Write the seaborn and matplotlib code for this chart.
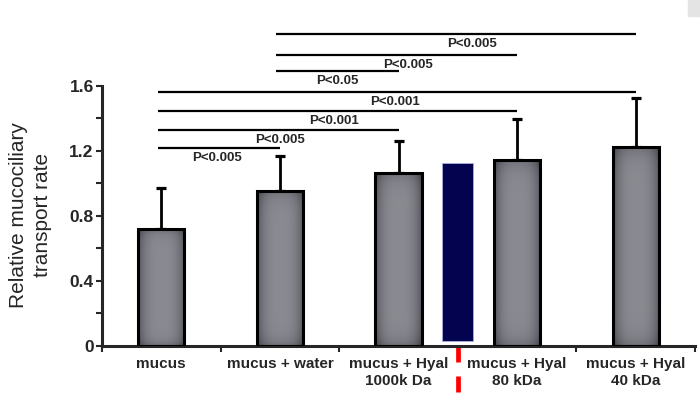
import numpy as np
import pandas as pd
import matplotlib
matplotlib.use("Agg")
import matplotlib.pyplot as plt
from matplotlib.patches import Rectangle
import seaborn as sns

# values
categories = ["mucus", "mucus + water", "mucus + Hyal\n1000k Da",
              "mucus + Hyal\n80 kDa", "mucus + Hyal\n40 kDa"]
rate = [0.717, 0.955, 1.062, 1.144, 1.226]
sd = [0.253, 0.214, 0.201, 0.251, 0.302]

# significance brackets (from group, to group, bracket height, label)
comp_from = [1, 1, 1, 0, 0, 0, 0]
comp_to = [4, 3, 2, 4, 3, 2, 1]
comp_y = [1.919, 1.794, 1.693, 1.563, 1.446, 1.329, 1.218]
comp_label = ["P<0.005", "P<0.005", "P<0.05", "P<0.001", "P<0.001", "P<0.005", "P<0.005"]
comp_text_x = [2.62, 2.08, 1.48, 1.97, 1.46, 1.0, 0.47]

# stray navy block between 3rd and 4th bar
block_x = 2.5
block_bottom = 0.03
block_top = 1.126

yticks = [0, 0.4, 0.8, 1.2, 1.6]
yticklabels = ["0", "0.4", "0.8", "1.2", "1.6"]

sns.set_style("ticks")
plt.rcParams["font.family"] = ["Liberation Sans", "DejaVu Sans"]

frame = pd.DataFrame({"group": categories, "rate": rate})

fig = plt.figure(figsize=(7, 3.95), dpi=100)
ax = fig.add_axes([102 / 700, 49.3 / 395, 593 / 700, 345.7 / 395])

sns.barplot(data=frame, x="group", y="rate", order=categories, color="gray",
            width=0.39, edgecolor="black", linewidth=2.2, errorbar=None, ax=ax)

# cylinder-like gray shading inside each bar
u = np.linspace(-1, 1, 60)
v = np.linspace(-1, 1, 120)
U, V = np.meshgrid(u, v)
shade = 0.54 - 0.20 * np.abs(U) ** 3 - 0.10 * np.abs(V) ** 10
grad = np.dstack([shade, shade, shade + 0.03])
grad = np.clip(grad, 0, 1)
for p in ax.patches:
    x0, y0 = p.get_x(), p.get_y()
    w, h = p.get_width(), p.get_height()
    im = ax.imshow(grad, extent=[x0, x0 + w, y0, y0 + h], aspect="auto",
                   origin="lower", zorder=2, interpolation="bilinear")
    im.set_clip_path(p)
    p.set_facecolor("none")
    p.set_zorder(3)

ax.errorbar(x=np.arange(len(rate)), y=rate, yerr=[np.zeros(len(sd)), sd],
            fmt="none", ecolor="black", elinewidth=2.0, capsize=3.3,
            capthick=2.3, zorder=1)

ax.bar(block_x, block_top - block_bottom, bottom=block_bottom, width=0.26,
       color="#03034f", edgecolor="#a9b0dd", linewidth=0.6, zorder=2)

for a, b, y, lab, tx in zip(comp_from, comp_to, comp_y, comp_label, comp_text_x):
    ax.plot([a - 0.03, b], [y, y], color="black", lw=1.6, clip_on=False,
            solid_capstyle="butt")
    ax.text(tx, y - 0.063, lab, ha="center", va="center", fontsize=9.5,
            fontweight="bold", clip_on=False)

# red dashes at the boundary under the axis
ax.plot([block_x, block_x], [-0.008, -0.10], color="red", lw=3.4,
        clip_on=False, solid_capstyle="butt")
ax.plot([block_x, block_x], [-0.187, -0.285], color="red", lw=3.4,
        clip_on=False, solid_capstyle="butt")

ax.set_xlim(-0.5, len(categories) - 0.5)
ax.set_ylim(0, 345.7 / 162.3)
ax.set_yticks(yticks)
ax.set_yticklabels(yticklabels, fontsize=12.5, fontweight="bold")
ax.set_yticks(np.arange(0, 1.61, 0.2), minor=True)
ax.set_xticks(np.arange(-0.5, len(categories)), minor=True)
ax.set_xticklabels(categories, fontsize=11, fontweight="bold", linespacing=1.3)
ax.tick_params(axis="x", which="major", length=0, pad=8)
ax.tick_params(axis="x", which="minor", length=4, width=1.5, direction="out")
ax.tick_params(axis="y", which="both", length=4, width=1.5, direction="out", pad=2)
ax.set_xlabel("")
ax.set_ylabel("")

sns.despine(ax=ax)
ax.spines["left"].set_bounds(0, 1.6)
ax.spines["left"].set_linewidth(2.2)
ax.spines["bottom"].set_linewidth(2.2)

fig.text(30.5 / 700, 1 - 215 / 395, "Relative mucociliary\ntransport rate",
         rotation=90, ha="center", va="center", fontsize=15, linespacing=1.3)

fig.patches.append(Rectangle((688 / 700, 1 - 16 / 395), 12 / 700, 16 / 395,
                             transform=fig.transFigure, color="#e4e4e4"))

fig.savefig("out.png", dpi=100)
